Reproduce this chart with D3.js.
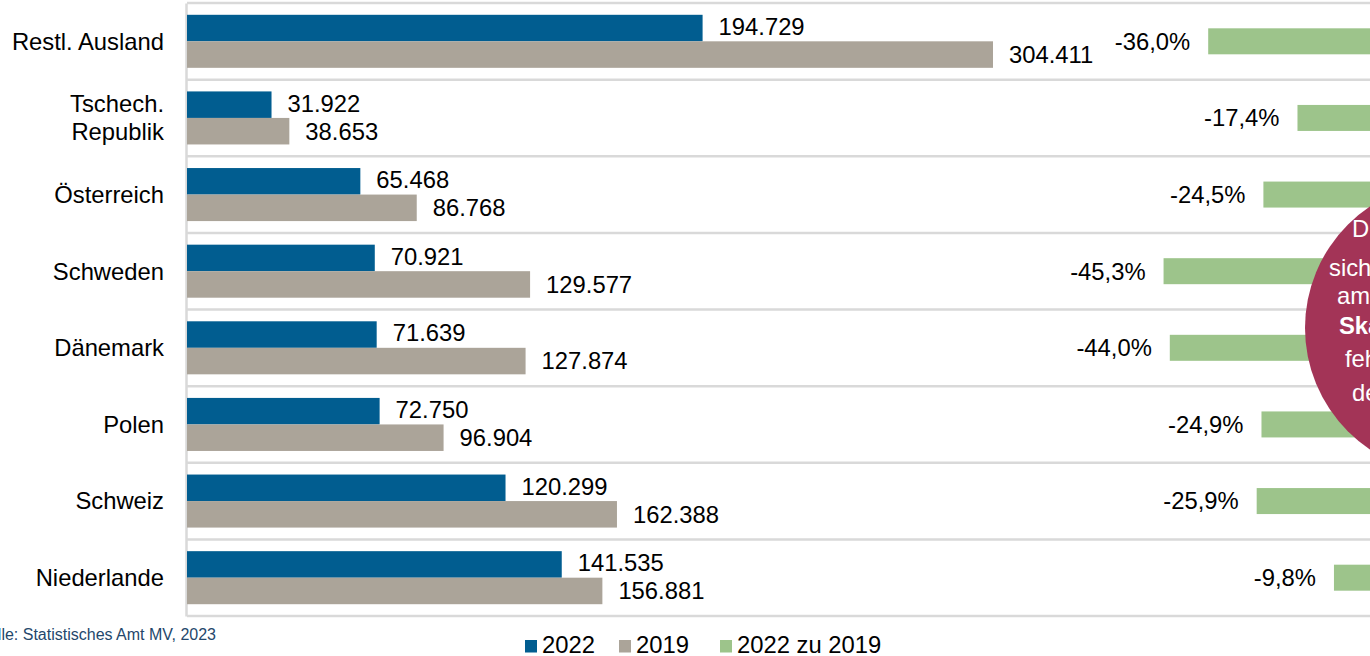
<!DOCTYPE html>
<html>
<head>
<meta charset="utf-8">
<script src="https://cdn.jsdelivr.net/npm/d3@7"></script>
<style>
  html, body { margin: 0; padding: 0; background: #fff; overflow: hidden; }
  svg { display: block; font-family: "Liberation Sans", Arial, sans-serif; }
</style>
</head>
<body>
<svg id="chart" width="1370" height="656"></svg>
<script>
// ---- data ----
const categories = ["Restl. Ausland", "Tschech. Republik", "Österreich", "Schweden", "Dänemark", "Polen", "Schweiz", "Niederlande"];
const categoryLines = [["Restl. Ausland"], ["Tschech.", "Republik"], ["Österreich"], ["Schweden"], ["Dänemark"], ["Polen"], ["Schweiz"], ["Niederlande"]];
const values2022 = [194729, 31922, 65468, 70921, 71639, 72750, 120299, 141535];
const values2019 = [304411, 38653, 86768, 129577, 127874, 96904, 162388, 156881];
const change = [-36.0, -17.4, -24.5, -45.3, -44.0, -24.9, -25.9, -9.8];
const seriesNames = ["2022", "2019"];
const legendLabels = ["2022", "2019", "2022 zu 2019"];
const sourceText = "Quelle: Statistisches Amt MV, 2023";
const calloutLines = [
  {t: "Die", bold: false}, {t: "sich", bold: false}, {t: "am", bold: false},
  {t: "Skandinavier", bold: true}, {t: "fehlen", bold: false}, {t: "deutlich", bold: false}
];

// ---- styles ----
const colors = { "2022": "#015D90", "2019": "#ABA499", change: "#9DC48B" };
const gridColor = "#D9D9D9";
const fontSize = 23.8;

const svg = d3.select("#chart");
const loc = d3.formatLocale({decimal: ",", thousands: ".", grouping: [3], currency: ["", "€"], minus: "-"});
const fmtInt = loc.format(",d");
const fmtPct = v => loc.format(".1f")(v) + "%";

const y = d3.scaleBand().domain(categories).range([3, 616]).paddingInner(0).paddingOuter(0);
const ySub = d3.scaleBand().domain(seriesNames).range([0, y.bandwidth()]).paddingInner(0).paddingOuter(0.445);
const x = d3.scaleLinear().domain([0, 304411]).range([187, 993]);
const xPct = d3.scaleLinear().domain([-50, 0]).range([1141, 1381]);

// gridlines (band boundaries)
const bounds = categories.map(c => y(c)).concat([y.range()[1]]);
svg.append("g").selectAll("line").data(bounds).join("line")
  .attr("x1", 187).attr("x2", 1370)
  .attr("y1", d => d).attr("y2", d => d)
  .attr("stroke", gridColor).attr("stroke-width", 2.5);

// category axis
const yAxis = d3.axisLeft(y).tickSize(0).tickPadding(0);
const gAxis = svg.append("g").attr("transform", "translate(186,0)").call(yAxis);
gAxis.select(".domain").attr("stroke", gridColor).attr("stroke-width", 2.5);
gAxis.selectAll(".tick text").remove();
gAxis.selectAll(".tick").each(function(d, i) {
  const lines = categoryLines[i];
  const t = d3.select(this).append("text")
    .attr("x", -22).attr("text-anchor", "end")
    .attr("fill", "#000").attr("font-size", fontSize)
    .attr("font-family", "'Liberation Sans', Arial, sans-serif");
  const lh = 28;
  lines.forEach((ln, j) => {
    t.append("tspan").attr("x", -22)
      .attr("y", (j - (lines.length - 1) / 2) * lh)
      .attr("dy", "0.35em").text(ln);
  });
});

// bars
const rows = categories.map((c, i) => ({c, v: {"2022": values2022[i], "2019": values2019[i]}, p: change[i]}));
seriesNames.forEach(s => {
  svg.append("g").selectAll("rect").data(rows).join("rect")
    .attr("x", x(0))
    .attr("y", d => y(d.c) + ySub(s))
    .attr("width", d => x(d.v[s]) - x(0))
    .attr("height", ySub.bandwidth())
    .attr("fill", colors[s]);
  svg.append("g").selectAll("text").data(rows).join("text")
    .attr("x", d => x(d.v[s]) + 16)
    .attr("y", d => y(d.c) + ySub(s) + ySub.bandwidth() / 2 + (s === "2022" ? -1.5 : 0))
    .attr("dy", "0.35em")
    .attr("font-size", fontSize).attr("fill", "#000")
    .text(d => fmtInt(d.v[s]));
});

// change bars
const ch = 26;
svg.append("g").selectAll("rect").data(rows).join("rect")
  .attr("x", d => xPct(d.p))
  .attr("y", d => y(d.c) + y.bandwidth() / 2 - ch / 2)
  .attr("width", d => xPct(0) - xPct(d.p))
  .attr("height", ch)
  .attr("fill", colors.change);
svg.append("g").selectAll("text").data(rows).join("text")
  .attr("x", d => xPct(d.p) - 18)
  .attr("y", d => y(d.c) + y.bandwidth() / 2)
  .attr("dy", "0.35em")
  .attr("text-anchor", "end")
  .attr("font-size", fontSize).attr("fill", "#000")
  .text(d => fmtPct(d.p));

// callout circle (partially outside the view)
svg.append("circle").attr("cx", 1451).attr("cy", 328).attr("r", 146).attr("fill", "#A33457");
const cx0 = [1352, 1329, 1337, 1339, 1345, 1352];
const cy0 = [237, 276, 304, 334, 367, 401];
svg.append("g").selectAll("text").data(calloutLines).join("text")
  .attr("x", (d, i) => cx0[i]).attr("y", (d, i) => cy0[i])
  .attr("font-size", fontSize).attr("fill", "#fff")
  .attr("font-weight", d => d.bold ? "bold" : "normal")
  .text(d => d.t);

// legend
const legX = [525, 619, 720];
const legColors = [colors["2022"], colors["2019"], colors.change];
const leg = svg.append("g").selectAll("g").data(legendLabels).join("g")
  .attr("transform", (d, i) => `translate(${legX[i]},0)`);
leg.append("rect").attr("x", 0).attr("y", 640).attr("width", 12).attr("height", 12.5)
  .attr("fill", (d, i) => legColors[i]);
leg.append("text").attr("x", 17).attr("y", 652.5)
  .attr("font-size", fontSize).attr("fill", "#000").text(d => d);

// source
svg.append("text").attr("x", 216).attr("y", 640).attr("text-anchor", "end")
  .attr("font-size", 16).attr("fill", "#24476B").text(sourceText);
</script>
</body>
</html>
